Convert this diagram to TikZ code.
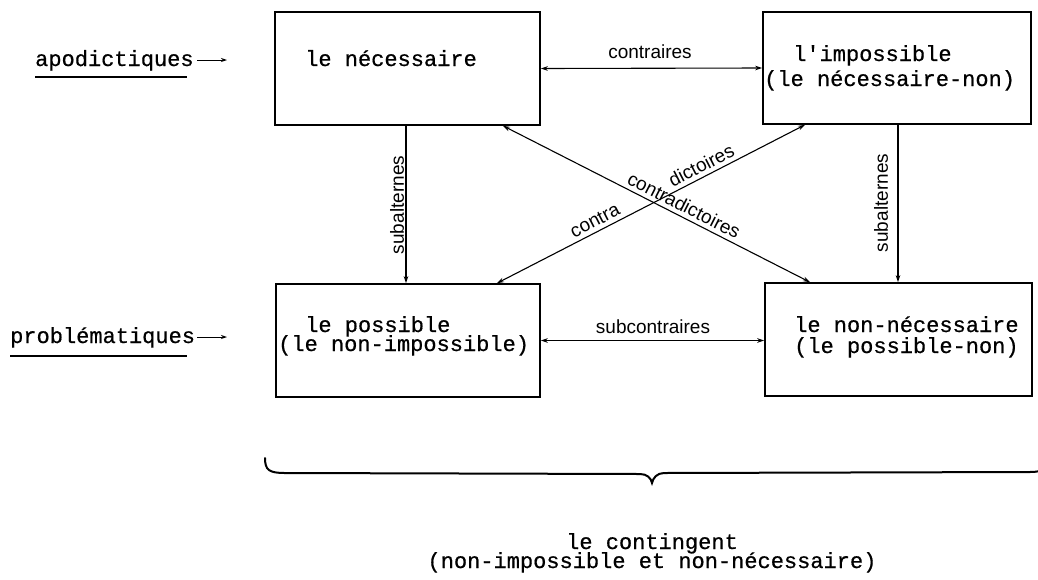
\documentclass[tikz,border=0pt]{standalone}
\usepackage{fontspec}
\setmainfont{Liberation Sans}
\newfontfamily\tw[FakeBold=0.6]{Liberation Mono}
\usetikzlibrary{arrows.meta}
\begin{document}
\begin{tikzpicture}[x=1pt,y=-1pt,
  box/.style={draw, line width=1.6pt, rectangle, inner sep=0pt},
  tt/.style={font=\tw\fontsize{22}{22}\selectfont, inner sep=0pt, anchor=base west},
  ttc/.style={font=\tw\fontsize{22}{22}\selectfont, inner sep=0pt, anchor=base},
  lab/.style={font=\fontsize{19}{19}\selectfont, inner sep=0pt},
  both/.style={line width=1.1pt, {Stealth[length=7pt,width=4.5pt]}-{Stealth[length=7pt,width=4.5pt]}},
  one/.style={line width=1.1pt, -{Stealth[length=7pt,width=4.5pt]}},
  uline/.style={line width=1.3pt}
]
\useasboundingbox (0,0) rectangle (1038,579);

% boxes
\node[box, minimum width=265pt, minimum height=113pt] (nec) at (407.5,68.5) {};
\node[box, minimum width=268pt, minimum height=112pt] (imp) at (897,68) {};
\node[box, minimum width=264pt, minimum height=113pt] (pos) at (408,340.5) {};
\node[box, minimum width=267pt, minimum height=113pt] (nnec) at (898.5,339.5) {};

% box texts
\node[tt] (tnec) at (305,66) {le nécessaire};
\node[tt] (timp1) at (793,61) {l'impossible};
\node[tt] (timp2) at (764,86) {(le nécessaire-non)};
\node[tt] (tpos1) at (305,332) {le possible};
\node[tt] (tpos2) at (278,351) {(le non-impossible)};
\node[tt] (tnn1) at (794,332) {le non-nécessaire};
\node[tt] (tnn2) at (794,353) {(le possible-non)};

% side labels
\node[tt] (apo) at (35,66) {apodictiques};
\node[tt] (prob) at (10,343) {problématiques};
\draw[uline] (apo.base west) ++(0,11) coordinate (ua1) -- (187,77) coordinate (ua2);
\draw[uline] (prob.base west) ++(0,13) coordinate (up1) -- (187,356) coordinate (up2);
\coordinate (aa1) at (197,60);
\coordinate (aa2) at (227,60);
\coordinate (pa1) at (197,337);
\coordinate (pa2) at (227,337);
\draw[line width=0.9pt, -{Stealth[length=6pt,width=4pt]}] (aa1) -- (aa2);
\draw[line width=0.9pt, -{Stealth[length=6pt,width=4pt]}] (pa1) -- (pa2);

% horizontal connectors
\draw[both] (nec.east) -- (imp.west);
\node[lab, anchor=base] (lcon) at (650,58) {contraires};
\draw[both] (pos.east) -- (pos.east -| nnec.west);
\node[lab, anchor=base] (lsub) at (653,333) {subcontraires};

% vertical connectors
\coordinate (vl) at (406,0);
\coordinate (vr) at (898,0);
\draw[one] (nec.south -| vl) -- (pos.north -| vl);
\draw[one] (imp.south -| vr) -- (nnec.north -| vr);
\node[lab, rotate=90] (lsa1) at (397,205) {subalternes};
\node[lab, rotate=90] (lsa2) at (881,203) {subalternes};

% diagonals
\coordinate (k1) at (503,0);
\coordinate (k2) at (810,0);
\coordinate (k3) at (497,0);
\coordinate (k4) at (805,0);
\draw[both] (nec.south -| k1) -- (nnec.north -| k2)
  node[lab, sloped, anchor=south, inner sep=4pt, pos=0.573] (lcd) {contradictoires};
\draw[both] (pos.north -| k3) -- (imp.south -| k4)
  node[lab, sloped, anchor=south, inner sep=4pt, pos=0.334] (lc1) {contra}
  node[lab, sloped, anchor=south, inner sep=4pt, pos=0.68] (lc2) {dictoires};

% brace (cut by the right edge, as in the reference)
\draw[line width=2pt, line cap=round] (265,458) .. controls (265,470) and (269,473) .. (285,473)
  -- (640,474) .. controls (647,474) and (651,478) .. (652,483)
  .. controls (653,478) and (657,473) .. (664,473)
  -- (1030,472) .. controls (1044,472) and (1048,468) .. (1048,458);

\node[ttc] (cont1) at (652,549) {le contingent};
\node[ttc] (cont2) at (652,568) {(non-impossible et non-nécessaire)};
\end{tikzpicture}
\end{document}
